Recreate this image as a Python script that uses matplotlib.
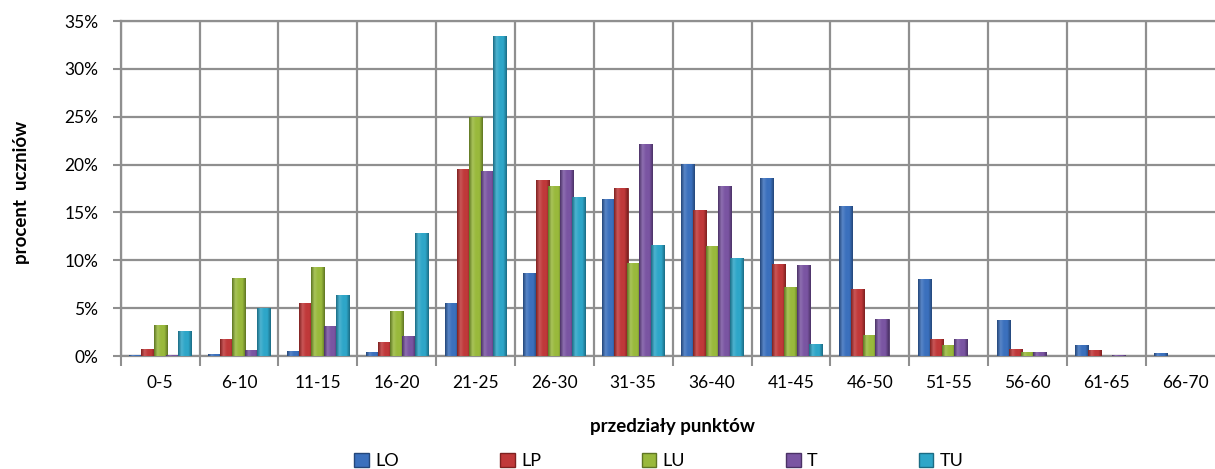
import numpy as np
import matplotlib
matplotlib.use("Agg")
import matplotlib.pyplot as plt
from matplotlib.patches import Patch
from matplotlib.colors import LinearSegmentedColormap, to_rgb

plt.rcParams['font.family'] = ['Lato', 'DejaVu Sans']

# przedzialy punktow
categories = ['0-5', '6-10', '11-15', '16-20', '21-25', '26-30', '31-35',
              '36-40', '41-45', '46-50', '51-55', '56-60', '61-65', '66-70']

# procent uczniow for each school type
LO = [0.1, 0.2, 0.5, 0.4, 5.5, 8.7, 16.4, 20.1, 18.6, 15.7, 8.0, 3.8, 1.2, 0.3]
LP = [0.7, 1.8, 5.5, 1.5, 19.5, 18.4, 17.5, 15.3, 9.6, 7.0, 1.8, 0.7, 0.6, 0.0]
LU = [3.2, 8.2, 9.3, 4.7, 25.0, 17.8, 9.7, 11.5, 7.2, 2.2, 1.1, 0.4, 0.0, 0.0]
T = [0.1, 0.6, 3.1, 2.1, 19.3, 19.4, 22.2, 17.8, 9.5, 3.9, 1.8, 0.4, 0.1, 0.0]
TU = [2.6, 5.0, 6.4, 12.9, 33.4, 16.6, 11.6, 10.2, 1.3, 0.0, 0.0, 0.0, 0.0, 0.0]

series = [('LO', LO), ('LP', LP), ('LU', LU), ('T', T), ('TU', TU)]
colors = ['#3b70bd', '#c0393a', '#99b93c', '#7a55a2', '#2ea6c8']
edges = ['#24477a', '#7e2120', '#5f7623', '#4b3266', '#1b6c84']
yticks = [0, 5, 10, 15, 20, 25, 30, 35]


def lighten(c, f):
    r, g, b = to_rgb(c)
    return (r + (1 - r) * f, g + (1 - g) * f, b + (1 - b) * f)


W, H = 1215, 469
fig = plt.figure(figsize=(W / 100, H / 100), dpi=100)
ax = fig.add_axes([120.7 / W, (H - 356) / H, (1224.6 - 120.7) / W, (356 - 21) / H])

x = np.arange(len(categories))
width = 0.165
step = 0.155
grad = np.linspace(0, 1, 64).reshape(1, -1)
for i, (name, vals) in enumerate(series):
    bars = ax.bar(x + (i - 2) * step, vals, width, color=colors[i], edgecolor=edges[i],
                  linewidth=0.6, label=name, zorder=3)
    # shaded look like the excel bevel
    cmap = LinearSegmentedColormap.from_list(
        name, [edges[i], lighten(colors[i], 0.15), colors[i], colors[i], edges[i]])
    for b in bars:
        if b.get_height() <= 0:
            continue
        im = ax.imshow(grad, cmap=cmap, aspect='auto', zorder=3.2,
                       extent=[b.get_x(), b.get_x() + b.get_width(), 0, b.get_height()])
        im.set_clip_path(b)

grid_c = '#8f8f8f'
ax.set_xlim(-0.5, len(categories) - 0.5)
ax.set_ylim(0, 35)
ax.set_yticks(yticks)
ax.set_yticklabels([f'{v}%' for v in yticks])
ax.set_xticks(np.arange(len(categories) + 1) - 0.5)
ax.set_xticklabels([])
ax.set_xticks(x, minor=True)
ax.set_xticklabels(categories, minor=True)
ax.tick_params(axis='x', which='minor', length=0, pad=14, labelsize=12.5)
ax.tick_params(axis='x', which='major', length=7, width=1.5, color=grid_c)
ax.tick_params(axis='y', length=6, width=1.5, color=grid_c, pad=10, labelsize=12.5)
ax.grid(True, which='major', color=grid_c, linewidth=1.6, zorder=0)
ax.set_axisbelow(True)
for s in ax.spines.values():
    s.set_color(grid_c)
    s.set_linewidth(1.6)

ax.set_xlabel('przedziały punktów', fontweight='bold', fontsize=13.5, labelpad=19)
fig.text(22 / W, 1 - 192 / H, 'procent  uczniów', rotation=90, fontweight='bold',
         fontsize=13.5, ha='center', va='center')

handles = [Patch(facecolor=colors[i], edgecolor=edges[i], label=n)
           for i, (n, _) in enumerate(series)]
fig.legend(handles=handles, loc='center', bbox_to_anchor=(659 / W, 1 - 461 / H),
           ncol=5, frameon=False, fontsize=13, handlelength=0.8,
           handleheight=0.8, handletextpad=0.35, columnspacing=5.6)

fig.savefig('out.png', dpi=100)
